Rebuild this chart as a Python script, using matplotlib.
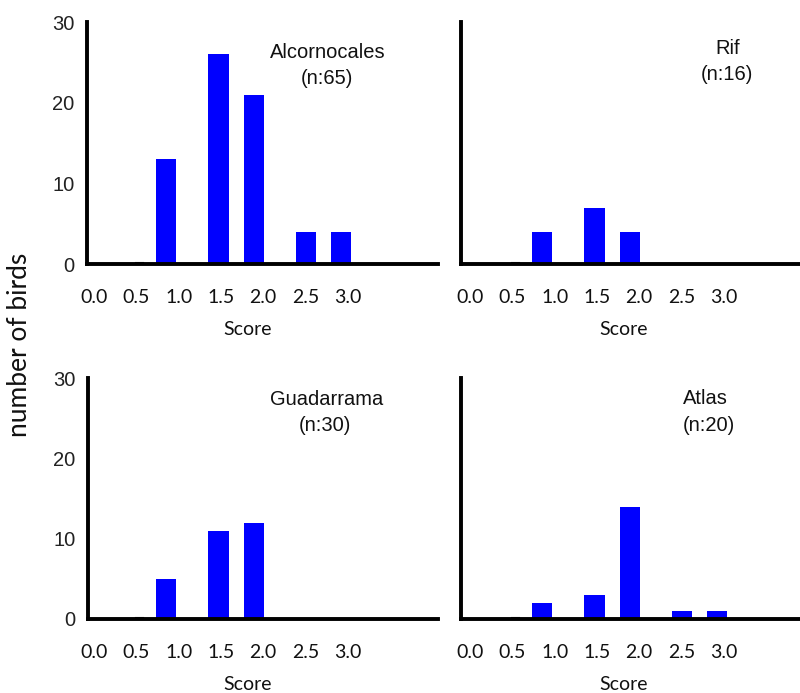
import matplotlib.pyplot as plt

# bar centres (score) and counts
score_pos = [0.85, 1.47, 1.89, 2.51, 2.92]
alcornocales = [13, 26, 21, 4, 4]
rif = [4, 7, 4, 0, 0]
guadarrama = [5, 11, 12, 0, 0]
atlas = [2, 3, 14, 1, 1]

tick_vals = [0.0, 0.5, 1.0, 1.5, 2.0, 2.5, 3.0]
tick_labels = ['0.0', '0.5', '1.0', '1.5', '2.0', '2.5', '3.0']
yticks = [0, 10, 20, 30]

panels = [
    ('Alcornocales', '(n:65)', alcornocales),
    ('Rif', '(n:16)', rif),
    ('Guadarrama', '(n:30)', guadarrama),
    ('Atlas', '(n:20)', atlas),
]

fig = plt.figure(figsize=(8, 6.93), dpi=100)
W, H = 800, 693

def px_axes(x0, y0, x1, y1):
    return fig.add_axes([x0 / W, 1 - y1 / H, (x1 - x0) / W, (y1 - y0) / H])

boxes = [(87, 22, 438, 264), (461, 22, 800, 264),
         (88, 378, 438, 619), (461, 378, 800, 619)]
# x=0 pixel position per panel, 84.6 px per score unit
zero_px = [94, 470, 94, 470]

for i, ((name, n_txt, counts), box) in enumerate(zip(panels, boxes)):
    ax = px_axes(*box)
    x0, _, x1, _ = box
    ax.set_xlim(-(zero_px[i] - x0) / 84.6, (x1 - zero_px[i]) / 84.6)
    ax.set_ylim(0, 30)
    ax.bar(score_pos, counts, width=0.24, color='#0000ff', zorder=2)
    # small dash left on the axis at score 0.5
    ax.plot([0.5, 0.58], [0.15, 0.15], color='black', lw=1.5, zorder=3)
    for s in ['top', 'right']:
        ax.spines[s].set_visible(False)
    for s in ['left', 'bottom']:
        ax.spines[s].set_linewidth(2.8)
        ax.spines[s].set_color('black')
    ax.set_xticks(tick_vals)
    ax.set_xticklabels(tick_labels, fontfamily='Lato', fontsize=14, color='#111111')
    ax.tick_params(axis='x', length=0, pad=18)
    ax.set_yticks(yticks)
    if i % 2 == 0:
        ax.set_yticklabels([str(v) for v in yticks], fontfamily='Liberation Sans',
                           fontsize=14.5, color='#222222')
        ax.tick_params(axis='y', length=0, pad=9)
    else:
        ax.set_yticklabels([])
        ax.tick_params(axis='y', length=0)
    ax.text(1.81, -0.27, 'Score', transform=ax.get_xaxis_transform(),
            ha='center', va='center', fontfamily='Lato', fontsize=14, color='#111111')
    ax.set_facecolor('none')

# region labels (figure pixel coords)
labels_px = [
    ('Alcornocales', 328, 52, 'center'), ('(n:65)', 327, 78, 'center'),
    ('Rif', 728, 48, 'center'), ('(n:16)', 727, 74, 'center'),
    ('Guadarrama', 327, 400, 'center'), ('(n:30)', 325, 426, 'center'),
    ('Atlas', 683, 398, 'left'), ('(n:20)', 683, 426, 'left'),
]
for txt, x, y, ha in labels_px:
    fig.text(x / W, 1 - y / H, txt, ha=ha, va='center', fontfamily='Liberation Sans',
             fontsize=14.5, color='#111111')

fig.text(20 / W, 1 - 345 / H, 'number of birds', rotation=90, ha='center', va='center',
         fontfamily='Lato', fontsize=19, color='#111111')

fig.savefig('out.png', dpi=100)
